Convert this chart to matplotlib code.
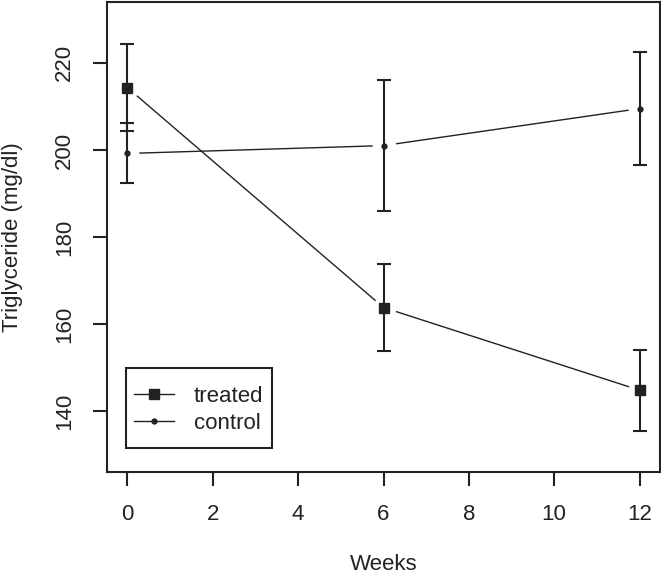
import numpy as np
import matplotlib.pyplot as plt
from matplotlib.lines import Line2D
from matplotlib.patches import Rectangle

plt.rcParams['font.family'] = ['Liberation Sans', 'DejaVu Sans']

weeks = [0, 6, 12]
treated = [214.3, 163.8, 144.8]
treated_err = [10.0, 10.0, 9.3]
control = [199.2, 201.0, 209.5]
control_err = [6.9, 15.0, 12.9]

x_ticks = [0, 2, 4, 6, 8, 10, 12]
y_ticks = [140, 160, 180, 200, 220]

ink = '#222222'
fs = 16

fig = plt.figure(figsize=(6.61, 5.75), dpi=100)
ax = fig.add_axes([107/661, 1 - 472/575, 553/661, 470/575])

# R-style ylim/xlim with 4% padding
ax.set_xlim(0 - 0.48, 12 + 0.48)
ax.set_ylim(130 - 4, 230 + 4)

for y, err, mk, ms in [(treated, treated_err, 's', 7), (control, control_err, 'o', 3.5)]:
    # line, then white discs to cut gaps (type="b"), then error bars and points
    ax.plot(weeks, y, color=ink, lw=1.0, zorder=2)
    ax.plot(weeks, y, 'o', ms=17, mfc='white', mec='none', zorder=2.5)
    ax.errorbar(weeks, y, yerr=err, fmt='none', ecolor=ink, elinewidth=1.5,
                capsize=5, capthick=1.5, zorder=3)
    ax.plot(weeks, y, mk, ms=ms, color=ink, zorder=4)

ax.set_xticks(x_ticks)
ax.set_yticks(y_ticks)
ax.tick_params(axis='both', length=10, width=1.5, color=ink, labelcolor=ink,
               labelsize=fs, pad=13)
for lab in ax.get_yticklabels():
    lab.set_rotation(90)
    lab.set_va('center')
for sp in ax.spines.values():
    sp.set_linewidth(1.5)
    sp.set_color(ink)

fig.text(13/661, 1 - 237/575, 'Triglyceride (mg/dl)', rotation=90,
         ha='center', va='center', fontsize=fs, color=ink)
fig.text(383.5/661, 1 - 570/575, 'Weeks', ha='center', va='baseline',
         fontsize=fs, color=ink)

# legend box drawn by hand (R legend has roomier padding)
ax.add_patch(Rectangle((0.0344, 0.0517), 0.2646, 0.1702, transform=ax.transAxes,
                       facecolor='white', edgecolor=ink, lw=1.5, zorder=5))
handles = [Line2D([], [], color=ink, lw=1.0, marker='s', ms=7),
           Line2D([], [], color=ink, lw=1.0, marker='o', ms=3.5)]
leg = ax.legend(handles, ['treated', 'control'], loc='lower left',
                bbox_to_anchor=(19/553, 0.0645), borderaxespad=0,
                fontsize=fs, handlelength=1.8, handletextpad=0.9,
                borderpad=0.35, labelspacing=0.27, frameon=False)
leg.set_zorder(6)
for t in leg.get_texts():
    t.set_color(ink)

fig.savefig('out.png', dpi=100)
